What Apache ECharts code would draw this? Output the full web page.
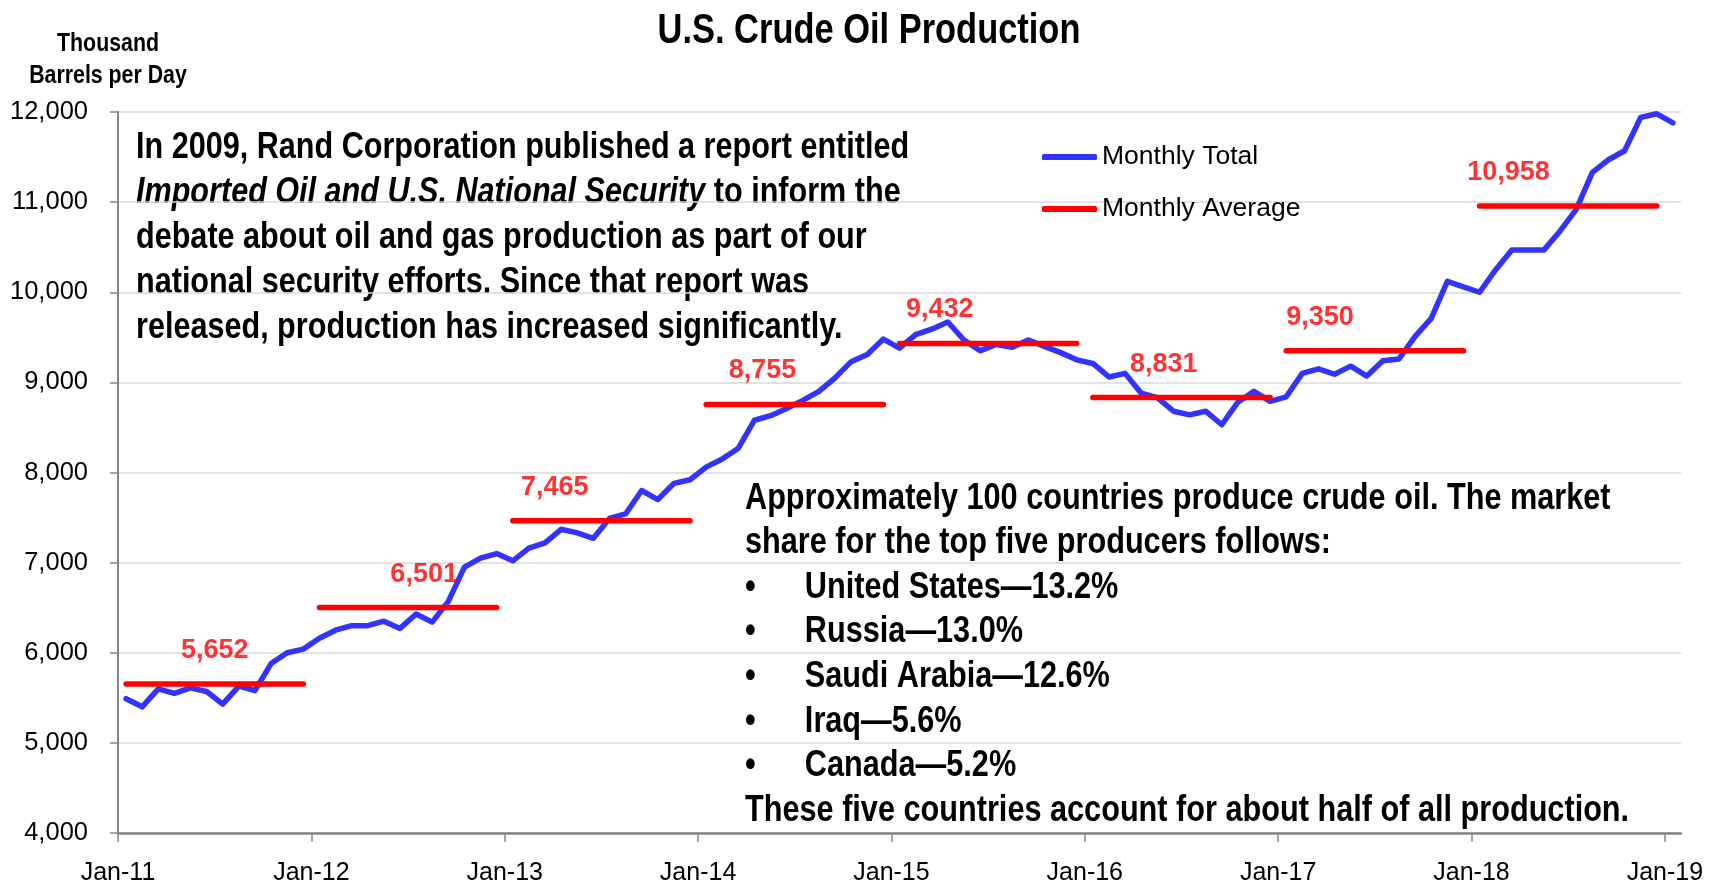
<!DOCTYPE html>
<html>
<head>
<meta charset="utf-8">
<script src="https://cdn.jsdelivr.net/npm/echarts@6/dist/echarts.min.js"></script>
<style>
html,body{margin:0;padding:0;background:#fff;}
#chart{width:1727px;height:886px;}
</style>
</head>
<body>
<div id="chart"></div>
<script>
// ---- data ----
const years = ['11','12','13','14','15','16','17','18','19'];
const monthly2011 = [5490,5400,5600,5550,5610,5570,5430,5630,5580,5880,6000,6040];
const monthly2012 = [6160,6250,6300,6300,6350,6270,6430,6340,6570,6950,7050,7100];
const monthly2013 = [7020,7160,7220,7370,7330,7270,7490,7540,7800,7700,7880,7920];
const monthly2014 = [8060,8150,8270,8580,8630,8710,8800,8900,9050,9230,9310,9480];
const monthly2015 = [9380,9530,9590,9670,9470,9350,9420,9390,9470,9400,9330,9250];
const monthly2016 = [9210,9060,9100,8880,8830,8680,8640,8680,8530,8780,8900,8790];
const monthly2017 = [8840,9100,9150,9090,9180,9070,9240,9260,9510,9710,10120,10060];
const monthly2018 = [10000,10250,10470,10470,10470,10680,10920,11330,11470,11570,11940,11980];
const monthly2019 = [11880];
const averages = [5652,6501,7465,8755,9432,8831,9350,10958];
const yTicks = [4000,5000,6000,7000,8000,9000,10000,11000,12000];

const FONT = '"Liberation Sans",Arial,sans-serif';
const NARROW = 0.82;

// ---- build series data ----
const allMonthly = [].concat(monthly2011,monthly2012,monthly2013,monthly2014,monthly2015,monthly2016,monthly2017,monthly2018,monthly2019);
const totalData = allMonthly.map((v,i)=>[i+0.5, v]);

const avgData = [];
averages.forEach((v,y)=>{
  avgData.push([y*12+0.5, v]);
  avgData.push([y*12+11.5, v]);
  avgData.push([y*12+12, '-']);
});
// where each average label sits within its year (months from January)
const labelOffsets = [6.0,7.0,3.1,4.0,3.0,4.9,2.6,2.3];
const avgLabelData = averages.map((v,y)=>[y*12+labelOffsets[y], v]);

const xTickValues = years.map((s,i)=>i*12);

const chart = echarts.init(document.getElementById('chart'), null, {renderer:'canvas'});
const option = {
  backgroundColor:'#ffffff',
  animation:false,
  grid:{left:118, top:112, width:1563, height:721, containLabel:false},
  legend:{
    orient:'vertical', left:1037, top:136,
    data:[{name:'Monthly Total',icon:'roundRect'},{name:'Monthly Average',icon:'roundRect'}],
    itemWidth:55, itemHeight:6, itemGap:20,
    textStyle:{fontFamily:FONT,fontSize:26.5,color:'#000',lineHeight:32}
  },
  xAxis:{
    type:'value', min:0, max:97, interval:12,
    splitLine:{show:false},
    axisLine:{show:true,lineStyle:{color:'#868686',width:2.5}},
    axisTick:{show:true,length:9,lineStyle:{color:'#868686',width:1.5},customValues:xTickValues},
    axisLabel:{
      customValues:xTickValues,
      margin:28,
      fontFamily:FONT,fontSize:25,color:'#000',
      formatter:(v)=>'Jan-'+years[Math.round(v/12)]
    }
  },
  yAxis:{
    type:'value', min:yTicks[0], max:yTicks[yTicks.length-1], interval:1000,
    splitLine:{show:true,lineStyle:{color:'#d9d9d9',width:1.5}},
    axisLine:{show:true,lineStyle:{color:'#868686',width:2}},
    axisTick:{show:true,length:8,lineStyle:{color:'#868686',width:1.5}},
    axisLabel:{
      margin:30,
      fontFamily:FONT,fontSize:25.5,color:'#000',
      formatter:(v)=>v.toLocaleString('en-US')
    }
  },
  graphic:[
    {
      type:'text', x:869, y:31, scaleX:NARROW,
      style:{
        text:'U.S. Crude Oil Production',
        align:'center', verticalAlign:'middle',
        fontFamily:FONT, fontWeight:'bold', fontSize:42, fill:'#000'
      }
    },
    {
      type:'text', x:108, y:28, scaleX:NARROW,
      style:{
        text:'Thousand\nBarrels per Day',
        align:'center', verticalAlign:'top',
        fontFamily:FONT, fontWeight:'bold', fontSize:26, lineHeight:32, fill:'#000'
      }
    },
    {
      type:'text', x:136, y:125, scaleX:NARROW,
      style:{
        align:'left', verticalAlign:'top',
        text:'{b|In 2009, Rand Corporation published a report entitled}\n{i|Imported Oil and U.S. National Security}{b| to inform the}\n{b|debate about oil and gas production as part of our}\n{b|national security efforts. Since that report was}\n{b|released, production has increased significantly.}',
        rich:{
          b:{fontFamily:FONT,fontWeight:'bold',fontSize:37.3,lineHeight:45,fill:'#000'},
          i:{fontFamily:FONT,fontWeight:'bold',fontStyle:'italic',fontSize:37.3,lineHeight:45,fill:'#000'}
        }
      }
    },
    {
      type:'text', x:745, y:476, scaleX:NARROW,
      style:{
        align:'left', verticalAlign:'top',
        text:'{b|Approximately 100 countries produce crude oil. The market}\n{b|share for the top five producers follows:}\n{u|•}{b|United States\u201413.2%}\n{u|•}{b|Russia\u201413.0%}\n{u|•}{b|Saudi Arabia\u201412.6%}\n{u|•}{b|Iraq\u20145.6%}\n{u|•}{b|Canada\u20145.2%}\n{b|These five countries account for about half of all production.}',
        rich:{
          b:{fontFamily:FONT,fontWeight:'bold',fontSize:37.4,lineHeight:44.6,fill:'#000'},
          u:{fontFamily:FONT,fontWeight:'bold',fontSize:37.4,lineHeight:44.6,fill:'#000',width:73}
        }
      }
    }
  ],
  series:[
    {
      name:'Monthly Total', type:'line', data:totalData,
      symbol:'none', showSymbol:false,
      lineStyle:{color:'#3333ff',width:5.5,join:'round',cap:'round'},
      itemStyle:{color:'#3333ff'},
      z:3
    },
    {
      name:'Monthly Average', type:'line', data:avgData,
      symbol:'none', showSymbol:false, connectNulls:false,
      lineStyle:{color:'#ff0000',width:5.5,cap:'round'},
      itemStyle:{color:'#ff0000'},
      z:4
    },
    {
      name:'avgLabels', type:'scatter', data:avgLabelData,
      symbol:'circle', symbolSize:0.01, silent:true,
      itemStyle:{color:'rgba(0,0,0,0)'},
      label:{
        show:true, position:'top', distance:20,
        fontFamily:FONT, fontWeight:'bold', fontSize:27, color:'#ff0000',
        formatter:(p)=>p.value[1].toLocaleString('en-US')
      },
      z:5
    }
  ]
};
chart.setOption(option);
</script>
</body>
</html>
